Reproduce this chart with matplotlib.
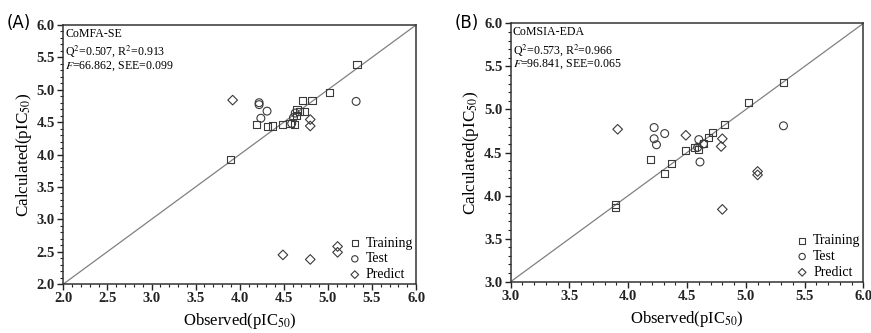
import numpy as np
import matplotlib
matplotlib.use("Agg")
import matplotlib.pyplot as plt
from matplotlib.ticker import MultipleLocator

# ── data (observed vs calculated pIC50)
# Panel A: CoMFA-SE
train_a_obs = [3.90, 4.19, 4.32, 4.37, 4.49, 4.57, 4.62, 4.64, 4.65, 4.68, 4.73, 4.71, 4.82, 5.02, 5.33]
train_a_calc = [3.92, 4.47, 4.43, 4.44, 4.46, 4.48, 4.47, 4.60, 4.70, 4.66, 4.67, 4.83, 4.83, 4.96, 5.39]
test_a_obs = [4.22, 4.22, 4.31, 4.24, 4.59, 4.61, 4.63, 5.32]
test_a_calc = [4.80, 4.77, 4.67, 4.56, 4.48, 4.57, 4.64, 4.82]
pred_a_obs = [3.92, 4.80, 4.80, 4.49, 4.80, 5.11, 5.11]
pred_a_calc = [4.84, 4.54, 4.44, 2.45, 2.38, 2.58, 2.49]

# Panel B: CoMSIA-EDA
train_b_obs = [3.89, 3.89, 4.19, 4.31, 4.37, 4.49, 4.56, 4.60, 4.64, 4.68, 4.72, 4.82, 5.02, 5.32]
train_b_calc = [3.90, 3.86, 4.42, 4.26, 4.37, 4.52, 4.56, 4.54, 4.60, 4.67, 4.73, 4.82, 5.08, 5.31]
test_b_obs = [4.22, 4.22, 4.24, 4.31, 4.59, 4.60, 4.61, 4.64, 5.32]
test_b_calc = [4.79, 4.66, 4.59, 4.72, 4.56, 4.65, 4.39, 4.60, 4.81]
pred_b_obs = [3.91, 4.49, 4.80, 4.79, 4.80, 5.10, 5.10]
pred_b_calc = [4.77, 4.70, 4.66, 4.57, 3.84, 4.28, 4.24]

stats_a = ["CoMFA-SE", "Q$^2$=0.507, R$^2$=0.913", "$F$=66.862, SEE=0.099"]
stats_b = ["CoMSIA-EDA", "Q$^2$=0.573, R$^2$=0.966", "$F$=96.841, SEE=0.065"]

plt.rcParams.update({
    'font.family': 'serif',
    'font.serif': ['Liberation Serif', 'DejaVu Serif'],
    'mathtext.fontset': 'stix',
})

EDGE = '#3a3a3a'
LINE = '#808080'

fig = plt.figure(figsize=(8.71, 3.33), dpi=100)
ax_a = fig.add_axes([0.0727, 0.147, 0.405, 0.778])
ax_b = fig.add_axes([0.5863, 0.154, 0.405, 0.776])


def draw_panel(ax, lo, tr_x, tr_y, te_x, te_y, pr_x, pr_y, stats):
    ax.plot([lo, 6], [lo, 6], color=LINE, lw=0.9, zorder=1)
    ax.scatter(tr_x, tr_y, marker='s', s=26, facecolors='none',
               edgecolors=EDGE, linewidths=0.8, label='Training', zorder=3)
    ax.scatter(te_x, te_y, marker='o', s=32, facecolors='none',
               edgecolors=EDGE, linewidths=0.8, label='Test', zorder=3)
    ax.scatter(pr_x, pr_y, marker='D', s=24, facecolors='none',
               edgecolors=EDGE, linewidths=0.8, label='Predict', zorder=3)
    ax.set_xlim(lo, 6)
    ax.set_ylim(lo, 6)
    ax.xaxis.set_major_locator(MultipleLocator(0.5))
    ax.yaxis.set_major_locator(MultipleLocator(0.5))
    ax.xaxis.set_minor_locator(MultipleLocator(0.1))
    ax.yaxis.set_minor_locator(MultipleLocator(0.1))
    ax.xaxis.set_major_formatter(lambda v, p: f"{v:.1f}")
    ax.yaxis.set_major_formatter(lambda v, p: f"{v:.1f}")
    ax.tick_params(which='major', direction='out', length=4, width=1,
                   labelsize=10.5, pad=2, colors='#222222')
    ax.tick_params(which='minor', direction='out', length=2, width=0.8,
                   colors='#222222')
    for lbl in ax.get_xticklabels() + ax.get_yticklabels():
        lbl.set_fontweight('bold')
    for s in ax.spines.values():
        s.set_linewidth(1.1)
        s.set_color('#333333')
    ax.set_xlabel("Observed(pIC$_{\\mathrm{50}}$)", fontsize=12, labelpad=4)
    ax.set_ylabel("Calculated(pIC$_{\\mathrm{50}}$)", fontsize=12.3, labelpad=2)
    for i, line in enumerate(stats):
        ax.text(0.006, 0.988 - i * 0.06, line, transform=ax.transAxes,
                ha='left', va='top', fontsize=8.6)
    ax.legend(loc='lower right', frameon=False, fontsize=10,
              handletextpad=0.2, borderaxespad=0.0, labelspacing=0.2,
              markerscale=0.8, handlelength=1.2, borderpad=0.2)


draw_panel(ax_a, 2.0, train_a_obs, train_a_calc, test_a_obs, test_a_calc,
           pred_a_obs, pred_a_calc, stats_a)
draw_panel(ax_b, 3.0, train_b_obs, train_b_calc, test_b_obs, test_b_calc,
           pred_b_obs, pred_b_calc, stats_b)

fig.text(0.008, 0.93, "(A)", fontsize=12, family='DejaVu Sans', va='center')
fig.text(0.522, 0.93, "(B)", fontsize=12, family='DejaVu Sans', va='center')

fig.savefig("out.png", dpi=100)
